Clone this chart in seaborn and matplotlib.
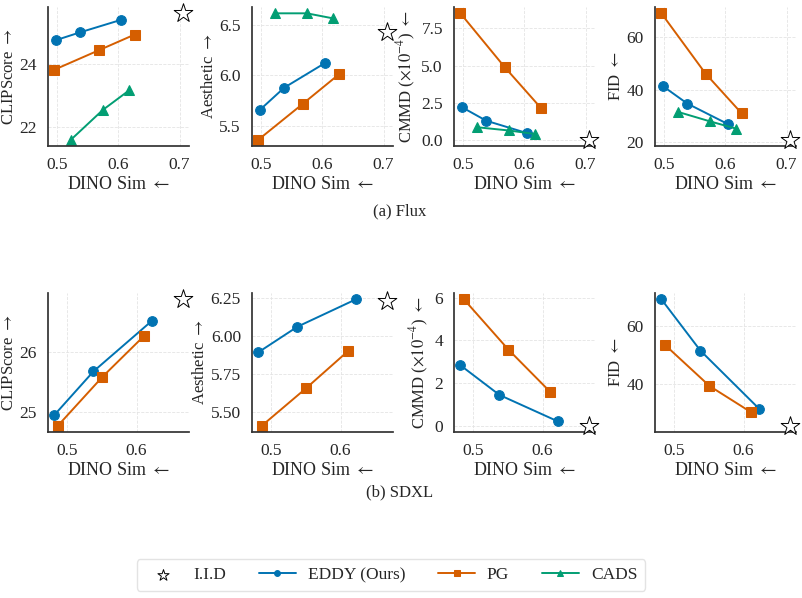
import numpy as np
import pandas as pd
import matplotlib
matplotlib.use("Agg")
import matplotlib.pyplot as plt
import seaborn as sns

# --- data ---
methods = ["EDDY (Ours)", "PG", "CADS"]
metrics = ["CLIPScore", "Aesthetic", "CMMD", "FID"]

# Flux
flux_x = {
    "EDDY (Ours)": [0.498, 0.538, 0.604],
    "PG": [0.496, 0.568, 0.627],
    "CADS": [0.523, 0.575, 0.618],
}
flux_iid_x = 0.705
flux_clip = {"EDDY (Ours)": [24.74, 24.99, 25.38], "PG": [23.81, 24.42, 24.92], "CADS": [21.60, 22.54, 23.16]}
flux_aes = {"EDDY (Ours)": [5.66, 5.88, 6.12], "PG": [5.37, 5.72, 6.01], "CADS": [6.61, 6.61, 6.56]}
flux_cmmd = {"EDDY (Ours)": [2.20, 1.28, 0.45], "PG": [8.52, 4.90, 2.15], "CADS": [0.84, 0.62, 0.38]}
flux_fid = {"EDDY (Ours)": [41.4, 34.7, 26.9], "PG": [69.1, 46.1, 30.9], "CADS": [31.5, 27.9, 25.1]}
flux_iid = [25.59, 6.43, 0.0, 20.9]

# SDXL
sdxl_x = {
    "EDDY (Ours)": [0.482, 0.538, 0.622],
    "PG": [0.487, 0.551, 0.611],
}
sdxl_iid_x = 0.666
sdxl_clip = {"EDDY (Ours)": [24.95, 25.68, 26.53], "PG": [24.77, 25.59, 26.28]}
sdxl_aes = {"EDDY (Ours)": [5.893, 6.06, 6.239], "PG": [5.413, 5.66, 5.902]}
sdxl_cmmd = {"EDDY (Ours)": [2.83, 1.44, 0.20], "PG": [5.92, 3.56, 1.58]}
sdxl_fid = {"EDDY (Ours)": [69.2, 51.5, 31.5], "PG": [53.5, 39.3, 30.2]}
sdxl_iid = [26.89, 6.23, 0.0, 25.6]

# rotated labels: a left arrow shows as a downward arrow on screen
ylabels = [r"CLIPScore $\rightarrow$", r"Aesthetic $\rightarrow$",
           r"CMMD ($\times10^{-4}$) $\leftarrow$", r"FID $\leftarrow$"]

colors = {"EDDY (Ours)": "#0173b2", "PG": "#d55e00", "CADS": "#029e73"}
markers = {"EDDY (Ours)": "o", "PG": "s", "CADS": "^"}

# --- style ---
sns.set_theme(style="whitegrid")
plt.rcParams["font.family"] = ["Liberation Serif", "DejaVu Serif"]
plt.rcParams["mathtext.fontset"] = "stix"
plt.rcParams["font.size"] = 12
plt.rcParams["axes.edgecolor"] = "#333333"
plt.rcParams["grid.color"] = "#e4e4e4"
plt.rcParams["grid.linestyle"] = "--"
plt.rcParams["grid.linewidth"] = 0.6

W, H = 802, 598
fig = plt.figure(figsize=(W / 100, H / 100), dpi=100)


def add_ax(left, top, width, height):
    return fig.add_axes([left / W, 1 - (top + height) / H, width / W, height / H])


def draw_row(top, xs, series_list, iid_x, iid_vals, lefts):
    for i, (series, iid_y) in enumerate(zip(series_list, iid_vals)):
        ax = add_ax(lefts[i], top, 141, 139)
        for m, ys in series.items():
            df = pd.DataFrame({"x": xs[m], "y": ys})
            sns.lineplot(data=df, x="x", y="y", ax=ax, color=colors[m],
                         marker=markers[m], markersize=7, markeredgecolor=colors[m],
                         linewidth=1.4, label=m, legend=False)
        ax.scatter([iid_x], [iid_y], marker="*", s=200, facecolor="white",
                   edgecolor="black", linewidth=0.7, zorder=5, label="I.I.D",
                   clip_on=False)
        ax.set_xlabel(r"DINO Sim $\leftarrow$", fontsize=13, labelpad=2)
        ax.set_ylabel(ylabels[i], fontsize=12, labelpad=2)
        ax.tick_params(labelsize=12.5, pad=2)
        ax.set_xticks([0.5, 0.6, 0.7] if iid_x > 0.69 else [0.5, 0.6])
        sns.despine(ax=ax)
        ax.grid(True)
        axes.append(ax)


axes = []
lefts = [48, 252, 454, 655]
draw_row(7, flux_x, [flux_clip, flux_aes, flux_cmmd, flux_fid], flux_iid_x, flux_iid, lefts)
draw_row(293, sdxl_x, [sdxl_clip, sdxl_aes, sdxl_cmmd, sdxl_fid], sdxl_iid_x, sdxl_iid, lefts)

axes[1].set_yticks([5.5, 6.0, 6.5])
axes[2].set_yticks([0.0, 2.5, 5.0, 7.5])
axes[3].set_yticks([20, 40, 60])
axes[4].set_yticks([25, 26])
axes[5].set_yticks([5.5, 5.75, 6.0, 6.25])
axes[6].set_yticks([0, 2, 4, 6])
axes[7].set_yticks([40, 60])

fig.text(400 / W, 1 - 211 / H, "(a) Flux", ha="center", va="center", fontsize=12)
fig.text(400 / W, 1 - 492 / H, "(b) SDXL", ha="center", va="center", fontsize=12)

# legend
handles, labels = axes[2].get_legend_handles_labels()
order = [labels.index("I.I.D")] + [labels.index(m) for m in methods]
leg = fig.legend([handles[j] for j in order], [labels[j] for j in order],
                 loc="center", bbox_to_anchor=(391 / W, 1 - 575 / H), ncol=4,
                 fontsize=12.5, frameon=True, columnspacing=1.9, handlelength=2.1,
                 handletextpad=0.7, borderpad=0.45, markerscale=0.6)
leg.get_frame().set_edgecolor("#dddddd")

plt.savefig("out.png", dpi=100)
